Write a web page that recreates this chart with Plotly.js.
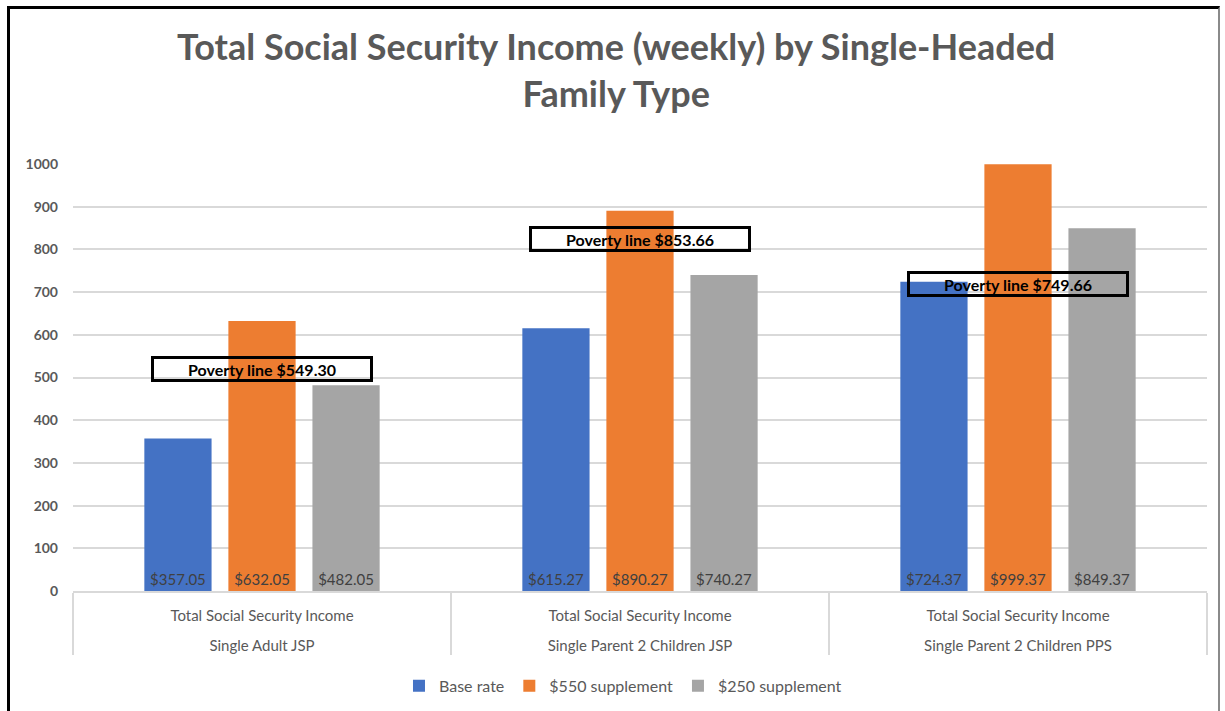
<!DOCTYPE html>
<html>
<head>
<meta charset="utf-8">
<script src="https://cdn.plot.ly/plotly-3.0.1.min.js"></script>
<style>
  html, body { margin: 0; padding: 0; background: #ffffff; }
  #wrap { position: relative; width: 1225px; height: 711px; }
  #chart { width: 1225px; height: 711px; }
  #frame {
    position: absolute; left: 7px; top: 6px; width: 1213px; height: 720px;
    border-left: 3px solid #000; border-top: 3px solid #000; border-right: 2px solid #8a8a8a;
    pointer-events: none; box-sizing: border-box;
  }
</style>
</head>
<body>
<div id="wrap">
  <div id="chart"></div>
  <div id="frame"></div>
</div>
<script>
// Family types (outer category row) and the shared measure name (inner row)
const families = ["Single Adult JSP", "Single Parent 2 Children JSP", "Single Parent 2 Children PPS"];
const measureRow = ["Total Social Security Income", "Total Social Security Income", "Total Social Security Income"];

// Weekly income per scenario, dollars
const baseRate = [357.05, 615.27, 724.37];
const supplement550 = [632.05, 890.27, 999.37];
const supplement250 = [482.05, 740.27, 849.37];

// Poverty line for each family type, dollars
const povertyLine = [549.30, 853.66, 749.66];

const seriesNames = ["Base rate", "$550 supplement", "$250 supplement"];
const seriesColors = ["#4472C4", "#ED7D31", "#A5A5A5"];
const seriesValues = [baseRate, supplement550, supplement250];

const FONT = "Lato, 'Open Sans', sans-serif";

// a short blank second line gives the two label rows a little more room
const innerRow = measureRow.map(s => s + "<br><span style='font-size:14px'> </span>");

const traces = seriesValues.map((vals, i) => ({
  type: "bar",
  name: seriesNames[i],
  x: [families, innerRow],
  y: vals,
  marker: { color: seriesColors[i] },
  texttemplate: "$%{y:.2f}",
  textposition: "inside",
  insidetextanchor: "start",
  textangle: 0,
  constraintext: "none",
  insidetextfont: { family: FONT, size: 15, color: "#404040" },
  hoverinfo: "skip"
}));

const annotations = povertyLine.map((v, i) => ({
  x: i,
  y: v,
  xref: "x",
  yref: "y",
  xanchor: "center",
  yanchor: "top",
  text: "<b>Poverty line $" + v.toFixed(2) + "</b>",
  showarrow: false,
  font: { family: FONT, size: 16, color: "#000000" },
  bordercolor: "#000000",
  borderwidth: 3,
  borderpad: 0,
  width: 216,
  height: 20,
  align: "center",
  bgcolor: "rgba(0,0,0,0)"
}));

const layout = {
  width: 1225,
  height: 711,
  paper_bgcolor: "#ffffff",
  plot_bgcolor: "#ffffff",
  margin: { l: 73, r: 18, t: 164, b: 120, autoexpand: false },
  font: { family: FONT, color: "#595959" },
  title: {
    text: "Total Social Security Income (weekly) by Single-Headed<br>Family Type",
    font: { family: FONT, size: 36, color: "#595959", weight: "bold" },
    x: 0.503,
    xanchor: "center",
    y: 0.915,
    yanchor: "top",
    yref: "container"
  },
  barmode: "group",
  bargap: 0.333,
  bargroupgap: 0.2,
  showlegend: true,
  legend: {
    orientation: "h",
    x: 0.485,
    xanchor: "center",
    y: -0.222,
    yanchor: "middle",
    font: { family: FONT, size: 16, color: "#595959" },
    itemwidth: 30,
    traceorder: "normal"
  },
  xaxis: {
    type: "multicategory",
    automargin: false,
    showline: true,
    linecolor: "#d9d9d9",
    linewidth: 2,
    showdividers: true,
    dividercolor: "#d9d9d9",
    dividerwidth: 2,
    ticks: "",
    ticklabelstandoff: 10,
    tickfont: { family: FONT, size: 15, color: "#595959" },
    showgrid: false,
    zeroline: false,
    fixedrange: true
  },
  yaxis: {
    range: [0, 1000],
    dtick: 100,
    tick0: 0,
    automargin: false,
    showgrid: true,
    gridcolor: "#d9d9d9",
    gridwidth: 2,
    zeroline: false,
    showline: false,
    ticks: "",
    ticklabelstandoff: 14,
    tickfont: { family: FONT, size: 14, color: "#595959", weight: "bold" },
    fixedrange: true
  },
  annotations: annotations
};

Plotly.newPlot("chart", traces, layout, { displayModeBar: false, staticPlot: true });
</script>
</body>
</html>
